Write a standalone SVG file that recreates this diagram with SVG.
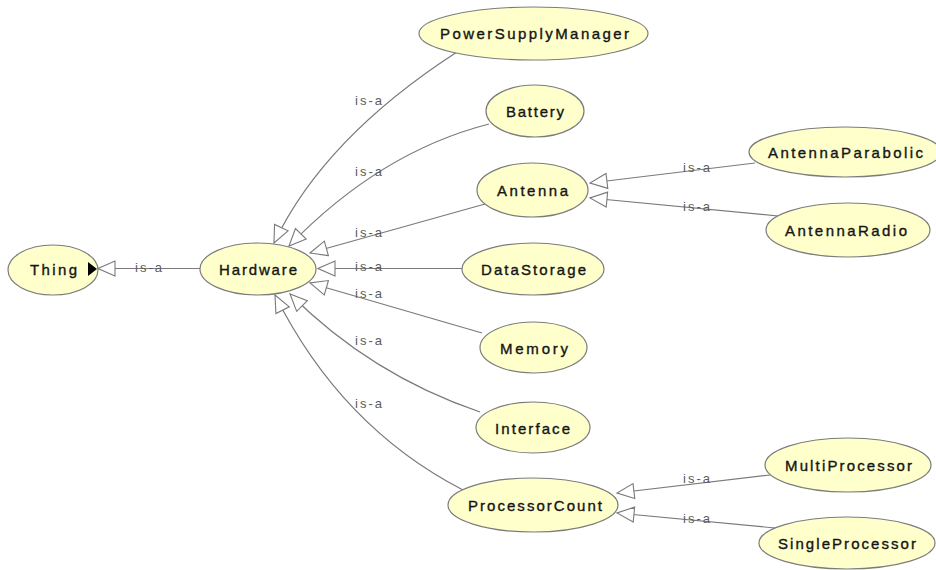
<svg xmlns="http://www.w3.org/2000/svg" width="936" height="570" viewBox="0 0 936 570">
  <defs>
    <marker id="isa" markerUnits="userSpaceOnUse" markerWidth="20" markerHeight="18" viewBox="0 0 20 18" refX="18.5" refY="9" orient="auto">
      <path d="M1.5,1.5 L18.5,9 L1.5,16.5 Z" fill="#ffffff" stroke="#7a7a7a" stroke-width="1.1"/>
    </marker>
    <style>
      .node ellipse { fill: #ffffcc; stroke: #7c7c7c; stroke-width: 1.2; }
      .node text { font-family: "Liberation Sans", Arial, sans-serif; font-size: 15px; fill: #141414; stroke: #141414; stroke-width: 0.35; text-anchor: middle; }
      .edge { fill: none; stroke: #7a7a7a; stroke-width: 1.2; marker-end: url(#isa); }
      .lbl { font-family: "Liberation Sans", Arial, sans-serif; font-size: 13px; fill: #5c5c5c; }
    </style>
  </defs>
  <rect width="936" height="570" fill="#ffffff"/>

  <!-- is-a connectors: child to parent, hollow head at parent -->
  <g id="connectors">
    <path class="edge" d="M200,268.5 L98,268.5"/>
    <path class="edge" d="M457,52 Q324,138 274,243"/>
    <path class="edge" d="M489,124 Q380,152 289,246"/>
    <path class="edge" d="M485,204 L310,253"/>
    <path class="edge" d="M462,268.5 L318,268.5"/>
    <path class="edge" d="M482,333 L310,283"/>
    <path class="edge" d="M480,412 Q371,375 290,294"/>
    <path class="edge" d="M463,490 Q341,427 275,295"/>
    <path class="edge" d="M755,163 L590,183"/>
    <path class="edge" d="M778,216 L590,198"/>
    <path class="edge" d="M770,475 L617,493"/>
    <path class="edge" d="M775,528 L617,513"/>

    <text class="lbl" x="135" y="272" textLength="27" lengthAdjust="spacing">is-a</text>
    <text class="lbl" x="355" y="105" textLength="27" lengthAdjust="spacing">is-a</text>
    <text class="lbl" x="355" y="176" textLength="27" lengthAdjust="spacing">is-a</text>
    <text class="lbl" x="355" y="237" textLength="27" lengthAdjust="spacing">is-a</text>
    <text class="lbl" x="355" y="271" textLength="27" lengthAdjust="spacing">is-a</text>
    <text class="lbl" x="355" y="298" textLength="27" lengthAdjust="spacing">is-a</text>
    <text class="lbl" x="355" y="345" textLength="27" lengthAdjust="spacing">is-a</text>
    <text class="lbl" x="355" y="408" textLength="27" lengthAdjust="spacing">is-a</text>
    <text class="lbl" x="683" y="172" textLength="27" lengthAdjust="spacing">is-a</text>
    <text class="lbl" x="683" y="211" textLength="27" lengthAdjust="spacing">is-a</text>
    <text class="lbl" x="683" y="483" textLength="27" lengthAdjust="spacing">is-a</text>
    <text class="lbl" x="683" y="523" textLength="27" lengthAdjust="spacing">is-a</text>
  </g>

  <g id="Thing" class="node">
    <ellipse cx="53" cy="270" rx="45" ry="25"/>
    <text x="53.5" y="275" textLength="47" lengthAdjust="spacing">Thing</text>
    <polygon points="88,262 97,269 88,276" fill="#000000"/>
  </g>
  <g id="Hardware" class="node">
    <ellipse cx="258" cy="269" rx="58" ry="26"/>
    <text x="258" y="275" textLength="78" lengthAdjust="spacing">Hardware</text>
  </g>
  <g id="PowerSupplyManager" class="node">
    <ellipse cx="533.5" cy="33.5" rx="114.5" ry="26.5"/>
    <text x="534.5" y="39" textLength="189" lengthAdjust="spacing">PowerSupplyManager</text>
  </g>
  <g id="Battery" class="node">
    <ellipse cx="535" cy="111" rx="49" ry="26"/>
    <text x="535" y="117" textLength="58" lengthAdjust="spacing">Battery</text>
  </g>
  <g id="Antenna" class="node">
    <ellipse cx="532.5" cy="190" rx="55.5" ry="27"/>
    <text x="532.5" y="196" textLength="71" lengthAdjust="spacing">Antenna</text>
  </g>
  <g id="AntennaParabolic" class="node">
    <ellipse cx="845" cy="152" rx="96" ry="25"/>
    <text x="845.5" y="158" textLength="155" lengthAdjust="spacing">AntennaParabolic</text>
  </g>
  <g id="AntennaRadio" class="node">
    <ellipse cx="848" cy="230" rx="82" ry="27"/>
    <text x="846" y="236" textLength="122" lengthAdjust="spacing">AntennaRadio</text>
  </g>
  <g id="DataStorage" class="node">
    <ellipse cx="533" cy="269" rx="71" ry="26"/>
    <text x="533.5" y="275" textLength="105" lengthAdjust="spacing">DataStorage</text>
  </g>
  <g id="Memory" class="node">
    <ellipse cx="533.5" cy="347.5" rx="53.5" ry="25.5"/>
    <text x="534" y="354" textLength="68" lengthAdjust="spacing">Memory</text>
  </g>
  <g id="Interface" class="node">
    <ellipse cx="533" cy="427.5" rx="57" ry="25.5"/>
    <text x="532.5" y="434" textLength="75" lengthAdjust="spacing">Interface</text>
  </g>
  <g id="ProcessorCount" class="node">
    <ellipse cx="533" cy="505" rx="85" ry="27"/>
    <text x="535" y="511" textLength="134" lengthAdjust="spacing">ProcessorCount</text>
  </g>
  <g id="MultiProcessor" class="node">
    <ellipse cx="848" cy="465" rx="83" ry="27"/>
    <text x="848.5" y="471" textLength="127" lengthAdjust="spacing">MultiProcessor</text>
  </g>
  <g id="SingleProcessor" class="node">
    <ellipse cx="847" cy="543" rx="88" ry="26"/>
    <text x="847" y="549" textLength="138" lengthAdjust="spacing">SingleProcessor</text>
  </g>
</svg>
